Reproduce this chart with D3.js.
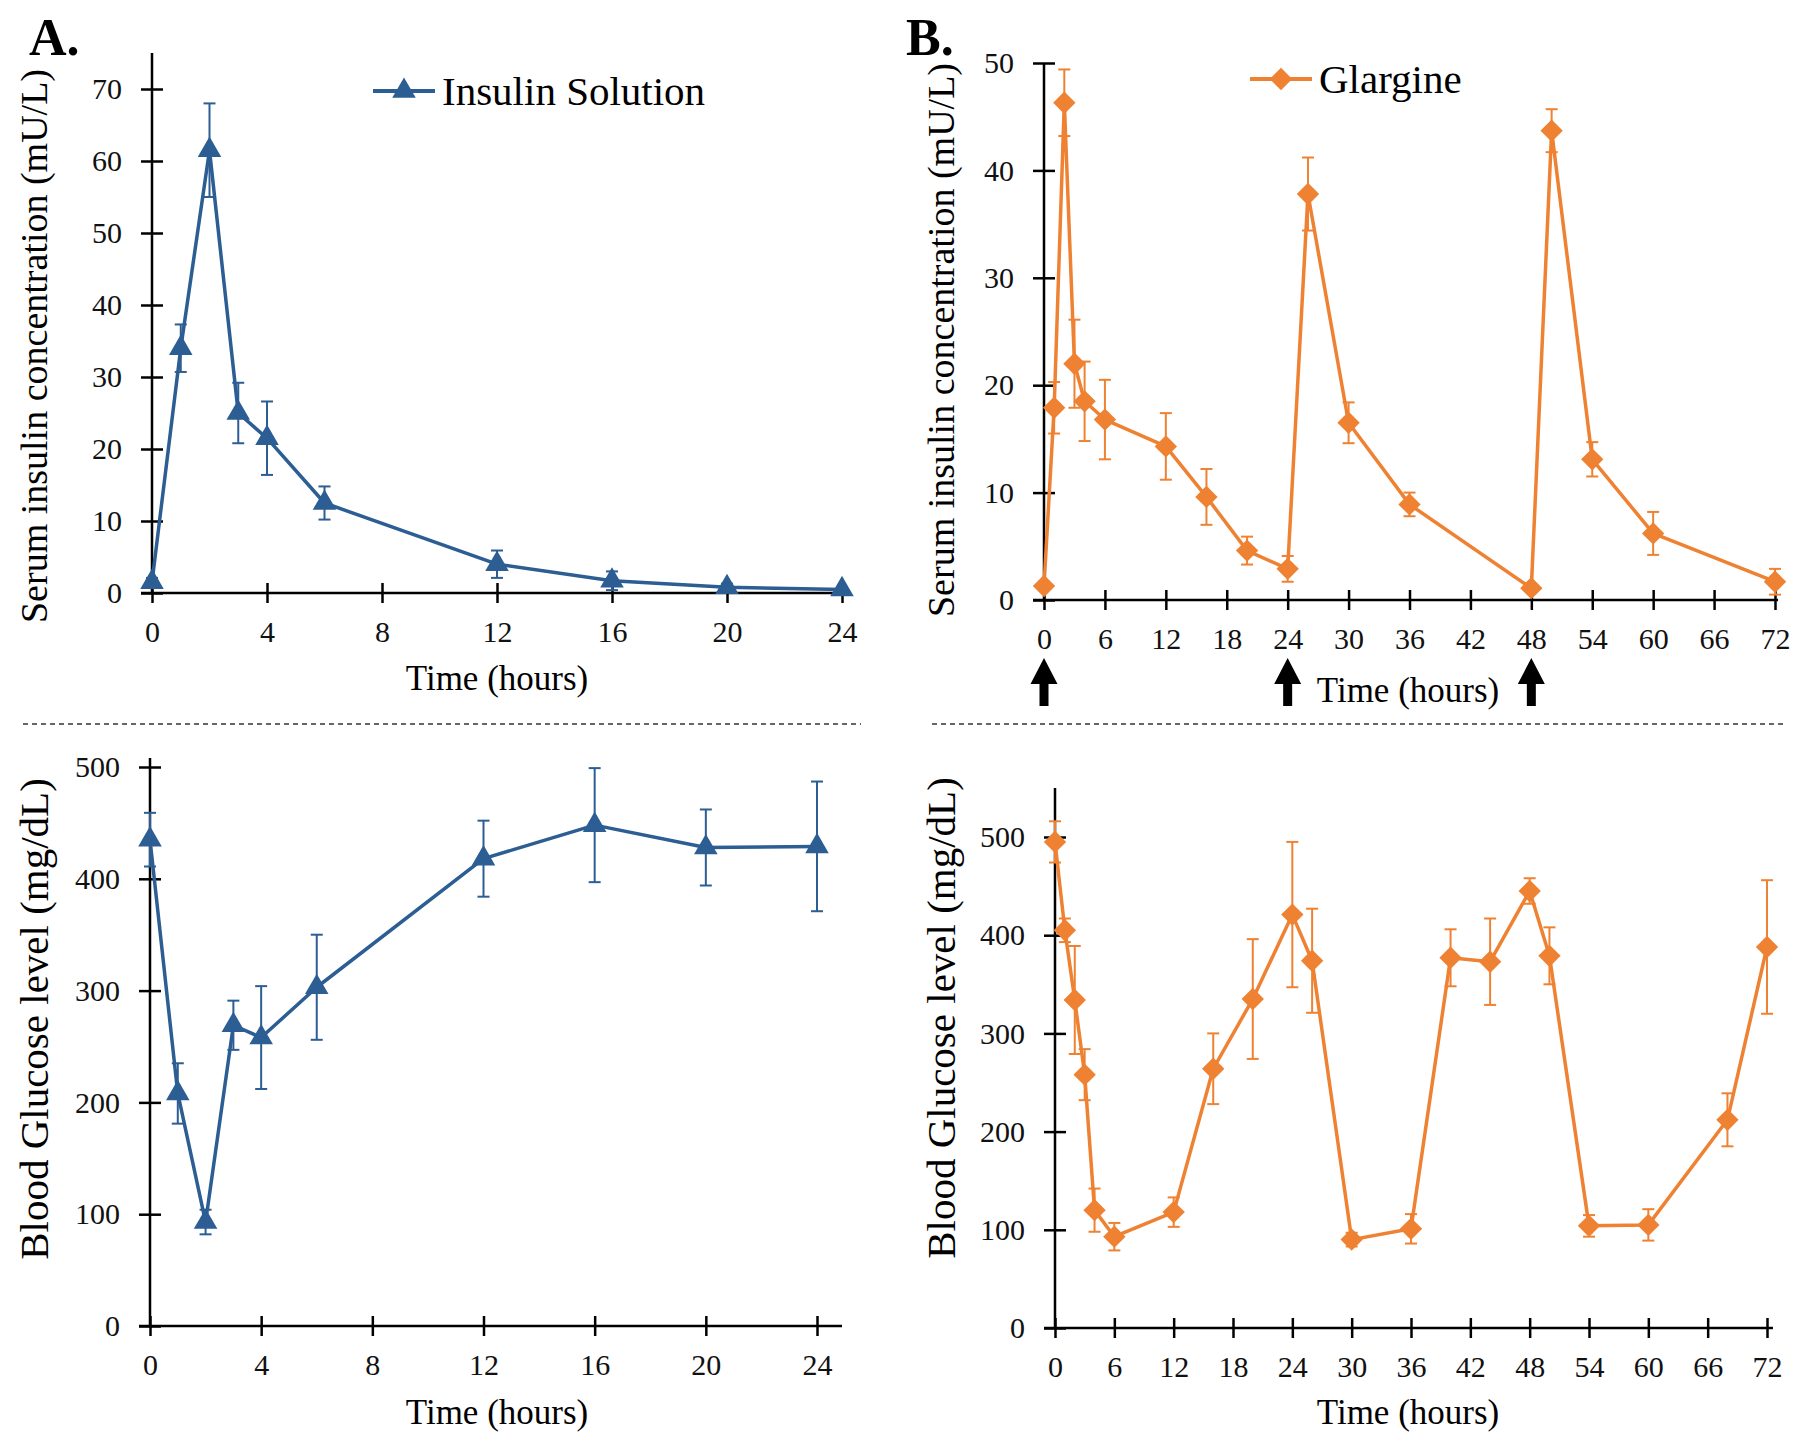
<!DOCTYPE html>
<html>
<head>
<meta charset="utf-8">
<script src="https://cdn.jsdelivr.net/npm/d3@7"></script>
<style>
  body { margin: 0; background: #fff; }
  svg { display: block; font-family: "Liberation Serif", "Times New Roman", serif; }
</style>
</head>
<body>
<div id="chart"></div>
<script>
// panel A: insulin solution, 24 h
var timesA = [0, 1, 2, 3, 4, 6, 12, 16, 20, 24];
var insulinA = [1.5, 34, 61.5, 25, 21.5, 12.5, 4, 1.7, 0.8, 0.5];
var insulinAErr = [0.6, 3.3, 6.5, 4.2, 5.1, 2.3, 1.9, 1.3, 0.5, 0.3];
var glucoseA = [435, 208, 93, 269, 258, 303, 418, 448, 428, 429];
var glucoseAErr = [24, 27, 11, 22, 46, 47, 34, 51, 34, 58];

// panel B: glargine, 72 h
var timesBIns = [0, 1, 2, 3, 4, 6, 12, 16, 20, 24, 26, 30, 36, 48, 50, 54, 60, 72];
var insulinB = [1.3, 17.9, 46.3, 22.0, 18.5, 16.8, 14.3, 9.6, 4.6, 2.9, 37.8, 16.5, 8.9, 1.1, 43.7, 13.1, 6.2, 1.7];
var insulinBErr = [0.3, 2.4, 3.1, 4.1, 3.7, 3.7, 3.1, 2.6, 1.3, 1.2, 3.4, 1.9, 1.1, 0.3, 2.0, 1.6, 2.0, 1.2];
var timesBGlu = [0, 1, 2, 3, 4, 6, 12, 16, 20, 24, 26, 30, 36, 40, 44, 48, 50, 54, 60, 68, 72];
var glucoseB = [495, 405, 334, 258, 120, 93, 118, 264, 335, 421, 374, 90, 101, 377, 373, 445, 379, 104, 105, 212, 388];
var glucoseBErr = [21, 12, 55, 26, 22, 14, 15, 36, 61, 74, 53, 7, 15, 29, 44, 13, 29, 11, 16, 27, 68];

// axis ticks
var ticksXA = [0, 4, 8, 12, 16, 20, 24];
var ticksXB = [0, 6, 12, 18, 24, 30, 36, 42, 48, 54, 60, 66, 72];
var ticksInsA = [0, 10, 20, 30, 40, 50, 60, 70];
var ticksInsB = [0, 10, 20, 30, 40, 50];
var ticksGlu = [0, 100, 200, 300, 400, 500];
var doseTimes = [0, 24, 48];

var serif = "'Liberation Serif', 'Times New Roman', serif";
var blue = "#2c5d93", orange = "#ee8232";
var W = 1800, H = 1447;

var svg = d3.select("#chart").append("svg")
    .attr("width", W)
    .attr("height", H);
svg.append("rect").attr("width", W).attr("height", H).attr("fill", "#fff");

function drawPanel(p) {
  var x = d3.scaleLinear().domain([0, p.xMax]).range([p.x0, p.x1]);
  var y = d3.scaleLinear().domain([0, p.yMax]).range([p.y0, p.y1]);
  var g = svg.append("g");

  // x axis
  var xa = g.append("g")
      .attr("transform", "translate(0," + p.y0 + ")")
      .call(d3.axisBottom(x).tickValues(p.xTicks).tickSize(10).tickPadding(18));
  xa.attr("font-family", serif).attr("font-size", 30);
  xa.select(".domain").remove();
  xa.selectAll(".tick line").attr("y1", -10).attr("y2", 10).attr("stroke", "#000").attr("stroke-width", 2.5);
  xa.selectAll(".tick text").attr("fill", "#111").attr("dy", "0.71em");
  g.append("line")
      .attr("x1", p.x0 - 11).attr("x2", x(p.xEnd))
      .attr("y1", p.y0).attr("y2", p.y0)
      .attr("stroke", "#000").attr("stroke-width", 2.5);

  // y axis
  var ya = g.append("g")
      .attr("transform", "translate(" + p.x0 + ",0)")
      .call(d3.axisLeft(y).tickValues(p.yTicks).tickSize(11).tickPadding(19));
  ya.attr("font-family", serif).attr("font-size", 30);
  ya.select(".domain").remove();
  ya.selectAll(".tick line").attr("x1", 11).attr("x2", -11).attr("stroke", "#000").attr("stroke-width", 2.5);
  ya.selectAll(".tick text").attr("fill", "#111");
  g.append("line")
      .attr("x1", p.x0).attr("x2", p.x0)
      .attr("y1", p.y0).attr("y2", y(p.yEnd))
      .attr("stroke", "#000").attr("stroke-width", 2.5);

  // titles
  g.append("text")
      .attr("x", p.titleX).attr("y", p.titleY)
      .attr("text-anchor", "middle")
      .attr("font-size", 35)
      .text("Time (hours)");
  g.append("text")
      .attr("transform", "translate(" + p.labelX + "," + p.labelY + ") rotate(-90)")
      .attr("text-anchor", "middle")
      .attr("dy", "0.35em")
      .attr("font-size", p.labelSize)
      .text(p.label);

  var pts = p.times.map(function(t, i) { return {t: t, v: p.values[i], e: p.errs[i]}; });

  // series line
  var line = d3.line()
      .x(function(d) { return x(d.t); })
      .y(function(d) { return y(d.v); });
  g.append("path")
      .datum(pts)
      .attr("d", line)
      .attr("fill", "none")
      .attr("stroke", p.color)
      .attr("stroke-width", 3.5)
      .attr("stroke-linejoin", "round");

  // error bars
  var eb = g.selectAll(".err").data(pts).enter().append("g").attr("class", "err")
      .attr("stroke", p.color).attr("stroke-width", 2);
  eb.append("line")
      .attr("x1", function(d) { return x(d.t); }).attr("x2", function(d) { return x(d.t); })
      .attr("y1", function(d) { return y(d.v + d.e); })
      .attr("y2", function(d) { return y(Math.max(0, d.v - d.e)); });
  eb.append("line")
      .attr("x1", function(d) { return x(d.t) - 6; }).attr("x2", function(d) { return x(d.t) + 6; })
      .attr("y1", function(d) { return y(d.v + d.e); }).attr("y2", function(d) { return y(d.v + d.e); });
  eb.append("line")
      .attr("x1", function(d) { return x(d.t) - 6; }).attr("x2", function(d) { return x(d.t) + 6; })
      .attr("y1", function(d) { return y(Math.max(0, d.v - d.e)); })
      .attr("y2", function(d) { return y(Math.max(0, d.v - d.e)); });

  // markers
  g.selectAll(".mk").data(pts).enter().append("path")
      .attr("class", "mk")
      .attr("d", p.symbol)
      .attr("fill", p.color)
      .attr("transform", function(d) {
        return "translate(" + x(d.t) + "," + y(d.v) + ")" + (p.rotate ? " rotate(45)" : "");
      });

  return {x: x, y: y, g: g};
}

var tri = d3.symbol().type(d3.symbolTriangle).size(240)();
var dia = d3.symbol().type(d3.symbolSquare).size(250)();

var aTop = drawPanel({
  times: timesA, values: insulinA, errs: insulinAErr, color: blue, symbol: tri,
  xMax: 24, xEnd: 24.3, xTicks: ticksXA, x0: 152, x1: 842,
  yMax: 70, yEnd: 75, yTicks: ticksInsA, y0: 593, y1: 89,
  titleX: 497, titleY: 690, labelX: 34, labelY: 346, labelSize: 38,
  label: "Serum insulin concentration (mU/L)"
});
var aBot = drawPanel({
  times: timesA, values: glucoseA, errs: glucoseAErr, color: blue, symbol: tri,
  xMax: 24, xEnd: 24.9, xTicks: ticksXA, x0: 150, x1: 817,
  yMax: 500, yEnd: 508, yTicks: ticksGlu, y0: 1326, y1: 767,
  titleX: 497, titleY: 1424, labelX: 34, labelY: 1019, labelSize: 41,
  label: "Blood Glucose level (mg/dL)"
});
var bTop = drawPanel({
  times: timesBIns, values: insulinB, errs: insulinBErr, color: orange, symbol: dia, rotate: true,
  xMax: 72, xEnd: 72.3, xTicks: ticksXB, x0: 1044, x1: 1775,
  yMax: 50, yEnd: 50, yTicks: ticksInsB, y0: 600, y1: 63,
  titleX: 1408, titleY: 702, labelX: 941, labelY: 340, labelSize: 38,
  label: "Serum insulin  concentration (mU/L)"
});
var bBot = drawPanel({
  times: timesBGlu, values: glucoseB, errs: glucoseBErr, color: orange, symbol: dia, rotate: true,
  xMax: 72, xEnd: 72.6, xTicks: ticksXB, x0: 1055, x1: 1767,
  yMax: 500, yEnd: 550, yTicks: ticksGlu, y0: 1328, y1: 837,
  titleX: 1408, titleY: 1424, labelX: 941, labelY: 1018, labelSize: 41,
  label: "Blood Glucose level (mg/dL)"
});

// dosing arrows under panel B
var arrow = "M0,0 L13.5,26 L4.5,26 L4.5,48 L-4.5,48 L-4.5,26 L-13.5,26 Z";
svg.selectAll(".dose").data(doseTimes).enter().append("path")
    .attr("class", "dose")
    .attr("d", arrow)
    .attr("fill", "#000")
    .attr("transform", function(d) { return "translate(" + bTop.x(d) + ",658)"; });

// legends
function legend(x, y, w, color, symbol, rotate, label) {
  var lg = svg.append("g").attr("transform", "translate(" + x + "," + y + ")");
  lg.append("line").attr("x1", 0).attr("x2", w).attr("stroke", color).attr("stroke-width", 4);
  lg.append("path").attr("d", symbol).attr("fill", color)
      .attr("transform", "translate(" + (w / 2) + ",0)" + (rotate ? " rotate(45)" : ""));
  lg.append("text").attr("x", w + 7).attr("y", 14).attr("font-size", 41).text(label);
}
legend(373, 91, 62, blue, tri, false, "Insulin Solution");
legend(1250, 79, 62, orange, dia, true, "Glargine");

// panel letters
svg.append("text").attr("x", 29).attr("y", 55).attr("font-size", 52).attr("font-weight", "bold").text("A.");
svg.append("text").attr("x", 906).attr("y", 55).attr("font-size", 52).attr("font-weight", "bold").text("B.");

// dashed separators
[[23, 861], [932, 1786]].forEach(function(s) {
  svg.append("line")
      .attr("x1", s[0]).attr("x2", s[1]).attr("y1", 724).attr("y2", 724)
      .attr("stroke", "#666").attr("stroke-width", 2).attr("stroke-dasharray", "5,4");
});
</script>
</body>
</html>
